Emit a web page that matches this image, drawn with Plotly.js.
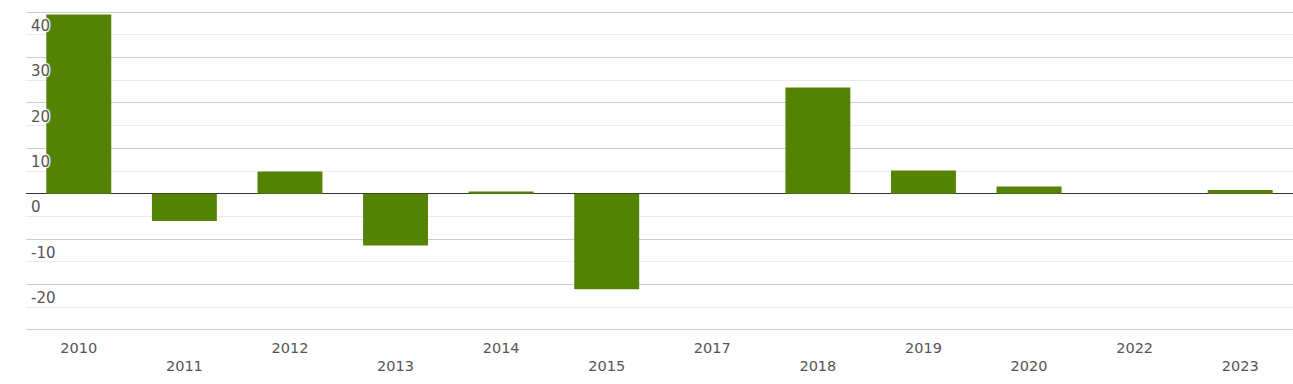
<!DOCTYPE html>
<html>
<head>
<meta charset="utf-8">
<script src="https://cdn.plot.ly/plotly-3.0.1.min.js"></script>
<style>html,body{margin:0;padding:0;background:#fff;}#chart{width:1293px;height:384px;}</style>
</head>
<body>
<div id="chart"></div>
<script>
var years = ["2010","2011","2012","2013","2014","2015","2017","2018","2019","2020","2022","2023"];
var values = [39.5, -6.0, 4.9, -11.4, 0.5, -21.1, 0, 23.4, 5.1, 1.6, 0, 0.8];
var yTicks = [-30, -20, -10, 0, 10, 20, 30, 40];
var yTickText = ["", "-20", "-10", "0", "10", "20", "30", "40"];

var tickText = years.map(function(y, i){ return i % 2 ? '<br>' + y : y; });

var trace = {
  type: 'bar',
  x: years,
  y: values,
  marker: {color: '#548203'},
  hoverinfo: 'x+y'
};

var halo = '1px 1px 1px #fff, -1px -1px 1px #fff, 1px -1px 1px #fff, -1px 1px 1px #fff, 0 0 2px #fff';

var layout = {
  width: 1293, height: 384,
  margin: {l: 26, r: 0, t: 10, b: 52},
  paper_bgcolor: '#fff', plot_bgcolor: '#fff',
  bargap: 0.385,
  showlegend: false,
  font: {family: 'DejaVu Sans, sans-serif', size: 14, color: '#555'},
  xaxis: {
    type: 'category',
    range: [-0.5, years.length - 0.5],
    autorange: false,
    tickvals: years,
    ticktext: tickText,
    showgrid: false,
    zeroline: false,
    showline: false,
    ticks: '',
    ticklabelstandoff: 5,
    tickfont: {size: 14.5, color: '#555'},
    fixedrange: true
  },
  yaxis: {
    range: [-30.5, 40.5],
    autorange: false,
    tickvals: yTicks,
    ticktext: yTickText,
    ticklabelposition: 'inside bottom',
    ticklabelshift: 3,
    ticklabelstandoff: 2,
    tickfont: {size: 15, color: '#555', shadow: halo},
    showgrid: true,
    gridcolor: '#cccccc',
    gridwidth: 1,
    minor: {dtick: 5, tick0: 0, showgrid: true, gridcolor: '#ebebeb', gridwidth: 1},
    zeroline: true,
    zerolinecolor: '#333',
    zerolinewidth: 1.3,
    showline: false,
    ticks: '',
    layer: 'above traces',
    fixedrange: true
  }
};

Plotly.newPlot('chart', [trace], layout, {displayModeBar: false, staticPlot: true});
</script>
</body>
</html>
